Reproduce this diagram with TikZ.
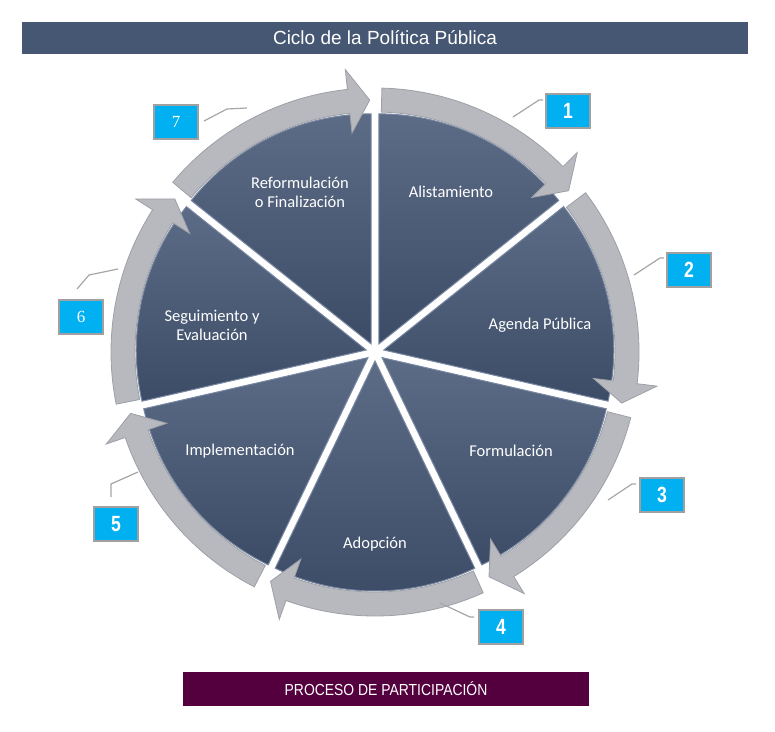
\documentclass[tikz,border=0pt]{standalone}
\usepackage{fontspec}
\setmainfont{Carlito}
\newfontfamily\titlefont{Liberation Sans}
\newfontfamily\barfont[FakeStretch=0.87]{Liberation Sans}
\newfontfamily\numfont[FakeStretch=0.8]{Liberation Sans}
\newfontfamily\numserif{Liberation Serif}
\definecolor{titleblue}{RGB}{70,87,115}
\definecolor{partplum}{RGB}{84,0,62}
\definecolor{wedgetop}{RGB}{92,108,134}
\definecolor{wedgebot}{RGB}{60,76,102}
\definecolor{wedgeedge}{RGB}{120,136,162}
\definecolor{ringfill}{RGB}{183,185,191}
\definecolor{ringedge}{RGB}{158,160,167}
\definecolor{boxcyan}{RGB}{0,176,240}
\definecolor{boxgray}{RGB}{160,160,160}
\definecolor{leadgray}{RGB}{166,166,166}
\tikzset{
  wedge/.style={top color=wedgetop, bottom color=wedgebot, draw=wedgeedge, line width=1pt},
  ring/.style={fill=ringfill, draw=ringedge, line width=0.8pt},
  numbox/.style={fill=boxcyan, draw=boxgray, line width=2pt, minimum width=44pt,
    minimum height=34pt, inner sep=0pt, text=white},
  leader/.style={draw=leadgray, line width=1.2pt},
  stagetext/.style={text=white, align=center, font=\fontsize{16.5}{19}\selectfont}
}
\begin{document}
\begin{tikzpicture}[x=1pt,y=1pt]
			\useasboundingbox (0,0) rectangle (775,-731);
			\node[fill=titleblue, minimum width=726pt, minimum height=32pt, inner sep=0pt,
				text=white, font=\titlefont\fontsize{19}{19}\selectfont] (title) at (385,-38) {Ciclo de la Política Pública};
			\begin{scope}[shift={(375,-352)}]
				\coordinate (c) at (0,0);
				% wedges
				\shade[wedge] ([shift={(64.29:9pt)}]c) -- ++(38.57:230pt) arc[start angle=38.57, end angle=90, radius=230pt] -- cycle;
				\shade[wedge] ([shift={(12.86:9pt)}]c) -- ++(-12.86:230pt) arc[start angle=-12.86, end angle=38.57, radius=230pt] -- cycle;
				\shade[wedge] ([shift={(-38.57:9pt)}]c) -- ++(-64.29:230pt) arc[start angle=-64.29, end angle=-12.86, radius=230pt] -- cycle;
				\shade[wedge] ([shift={(-90:9pt)}]c) -- ++(-115.71:230pt) arc[start angle=-115.71, end angle=-64.29, radius=230pt] -- cycle;
				\shade[wedge] ([shift={(-141.43:9pt)}]c) -- ++(-167.14:230pt) arc[start angle=-167.14, end angle=-115.71, radius=230pt] -- cycle;
				\shade[wedge] ([shift={(167.14:9pt)}]c) -- ++(141.43:230pt) arc[start angle=141.43, end angle=192.86, radius=230pt] -- cycle;
				\shade[wedge] ([shift={(115.71:9pt)}]c) -- ++(90:230pt) arc[start angle=90, end angle=141.43, radius=230pt] -- cycle;
				% arrows
				\draw[ring] (88.5:264pt) arc[start angle=88.5, end angle=44.6, radius=264pt] -- (44.6:284pt) -- (39.8:252pt) -- (44.6:220pt) -- (44.6:240pt) arc[start angle=44.6, end angle=88.5, radius=240pt] -- cycle;
				\draw[ring] (37.1:264pt) arc[start angle=37.1, end angle=-6.9, radius=264pt] -- (-6.9:284pt) -- (-11.7:252pt) -- (-6.9:220pt) -- (-6.9:240pt) arc[start angle=-6.9, end angle=37.1, radius=240pt] -- cycle;
				\draw[ring] (-14.4:264pt) arc[start angle=-14.4, end angle=-58.3, radius=264pt] -- (-58.3:284pt) -- (-63.1:252pt) -- (-58.3:220pt) -- (-58.3:240pt) arc[start angle=-58.3, end angle=-14.4, radius=240pt] -- cycle;
				\draw[ring] (-65.8:264pt) arc[start angle=-65.8, end angle=-109.7, radius=264pt] -- (-109.7:284pt) -- (-114.5:252pt) -- (-109.7:220pt) -- (-109.7:240pt) arc[start angle=-109.7, end angle=-65.8, radius=240pt] -- cycle;
				\draw[ring] (-117.2:264pt) arc[start angle=-117.2, end angle=-161.1, radius=264pt] -- (-161.1:284pt) -- (-165.9:252pt) -- (-161.1:220pt) -- (-161.1:240pt) arc[start angle=-161.1, end angle=-117.2, radius=240pt] -- cycle;
				\draw[ring] (191.4:264pt) arc[start angle=191.4, end angle=147.4, radius=264pt] -- (147.4:284pt) -- (142.6:252pt) -- (147.4:220pt) -- (147.4:240pt) arc[start angle=147.4, end angle=191.4, radius=240pt] -- cycle;
				\draw[ring] (140.0:264pt) arc[start angle=140.0, end angle=96.0, radius=264pt] -- (96.0:284pt) -- (91.2:252pt) -- (96.0:220pt) -- (96.0:240pt) arc[start angle=96.0, end angle=140.0, radius=240pt] -- cycle;
			\end{scope}
			% stage names
			\node[stagetext] (alist) at (451,-192) {Alistamiento};
			\node[stagetext] (agenda) at (540,-325) {Agenda Pública};
			\node[stagetext] (formul) at (511,-451) {Formulación};
			\node[stagetext] (adop) at (375,-544) {Adopción};
			\node[stagetext] (implem) at (240,-451) {Implementación};
			\node[stagetext] (segui) at (212,-325) {Seguimiento y\\Evaluación};
			\node[stagetext] (reform) at (300,-192) {Reformulación\\o Finalización};
			% numbers
			\node[numbox, font=\numfont\bfseries\fontsize{22}{22}\selectfont] (n1) at (568,-111) {1};
			\node[numbox, font=\numfont\bfseries\fontsize{22}{22}\selectfont] (n2) at (689,-270) {2};
			\node[numbox, font=\numfont\bfseries\fontsize{22}{22}\selectfont] (n3) at (662,-495) {3};
			\node[numbox, font=\numfont\bfseries\fontsize{22}{22}\selectfont] (n4) at (501,-627) {4};
			\node[numbox, font=\numfont\bfseries\fontsize{22}{22}\selectfont] (n5) at (116,-524) {5};
			\node[numbox, font=\numserif\fontsize{17}{17}\selectfont] (n6) at (81,-317) {6};
			\node[numbox, font=\numserif\fontsize{17}{17}\selectfont] (n7) at (176,-122) {7};
			\coordinate (l1) at (513,-117);
			\coordinate (l2) at (634,-275);
			\coordinate (l3) at (608,-500);
			\coordinate (l4) at (440,-603);
			\coordinate (l5) at (111,-497);
			\coordinate (l6) at (77,-289);
			\coordinate (l7) at (204,-121);
			\draw[leader] (l1) -- (539,-100) -- +(4,0);
			\draw[leader] (l2) -- (660,-258) -- +(4,0);
			\draw[leader] (l3) -- (632,-484) -- +(4,0);
			\draw[leader] (l4) -- (470,-617) -- +(4,0);
			\draw[leader] (l5) -- (111,-484) -- (138,-472);
			\draw[leader] (l6) -- (89,-275) -- (118,-269);
			\draw[leader] (l7) -- (227,-109) -- (247,-108);
			\node[fill=partplum, minimum width=406pt, minimum height=34pt, inner sep=0pt,
				text=white, font=\barfont\fontsize{16}{16}\selectfont] (part) at (386,-689) {PROCESO DE PARTICIPACIÓN};
		\end{tikzpicture}
\end{document}
